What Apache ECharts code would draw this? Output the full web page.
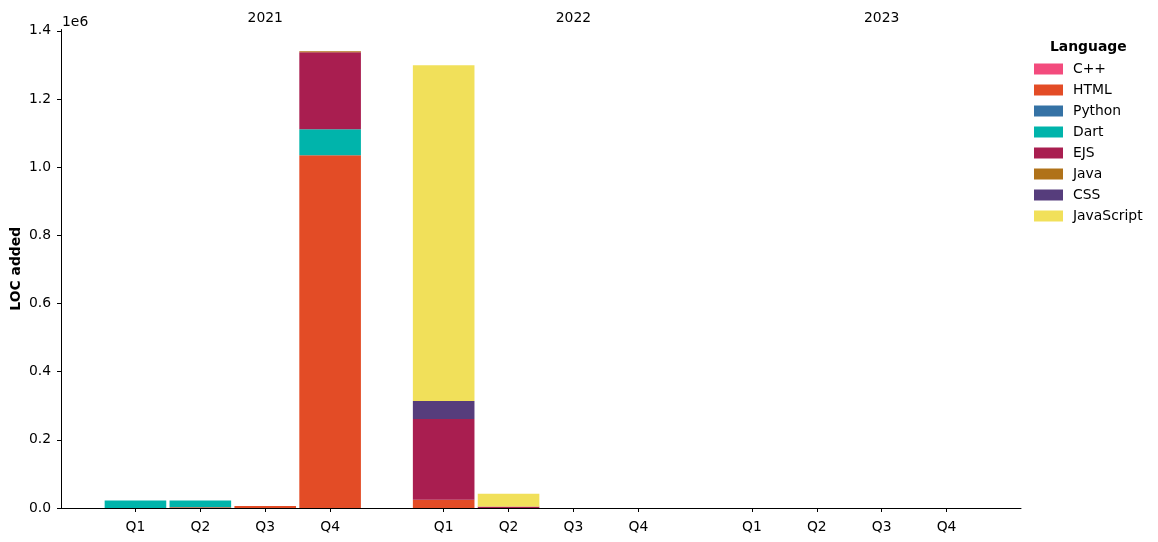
<!DOCTYPE html>
<html>
<head>
<meta charset="utf-8">
<script src="https://cdn.jsdelivr.net/npm/echarts@6/dist/echarts.min.js"></script>
<style>
  html, body { margin: 0; padding: 0; background: #fff; }
  #chart { width: 1158px; height: 542px; }
</style>
</head>
<body>
<div id="chart"></div>
<script>
// years / quarters on the x axis
var years = ['2021', '2022', '2023'];
var quarters = ['Q1', 'Q2', 'Q3', 'Q4'];

// lines of code added per quarter (2021 Q1 .. 2023 Q4)
var languages = ['C++', 'HTML', 'Python', 'Dart', 'EJS', 'Java', 'CSS', 'JavaScript'];
var colors = ['#f34b7d', '#e34c26', '#3572A5', '#00B4AB', '#a91e50', '#b07219', '#563d7c', '#f1e05a'];

var cppVals        = [0, 0, 0, 0,            0, 0, 0, 0,   0, 0, 0, 0];
var htmlVals       = [0, 2500, 6000, 1035000, 24000, 0, 0, 0, 0, 0, 0, 0];
var pythonVals     = [0, 0, 0, 0,            0, 0, 0, 0,   0, 0, 0, 0];
var dartVals       = [22000, 19500, 0, 76000, 0, 0, 0, 0,  0, 0, 0, 0];
var ejsVals        = [0, 0, 0, 226000,       237000, 4000, 0, 0, 0, 0, 0, 0];
var javaVals       = [0, 0, 0, 3000,         0, 500, 0, 0, 0, 0, 0, 0];
var cssVals        = [0, 0, 0, 0,            53000, 0, 0, 0, 0, 0, 0, 0];
var javascriptVals = [0, 0, 0, 0,            985000, 37000, 0, 0, 0, 0, 0, 0];

var yTicks = [0, 200000, 400000, 600000, 800000, 1000000, 1200000, 1400000];

var allVals = [cppVals, htmlVals, pythonVals, dartVals, ejsVals, javaVals, cssVals, javascriptVals];

// x position of each bar: quarters side by side, a gap between years
var yearStride = 4.75;
var positions = [];
var posLabel = {};
years.forEach(function (y, yi) {
  quarters.forEach(function (q, qi) {
    var p = yi * yearStride + qi;
    positions.push(p);
    posLabel[p.toFixed(3)] = q;
  });
});
var yearPositions = years.map(function (y, yi) { return yi * yearStride + 2; });
var yearLabel = {};
yearPositions.forEach(function (p, i) { yearLabel[p.toFixed(3)] = years[i]; });

// value first so the stack runs on the y dimension
var series = languages.map(function (name, i) {
  return {
    name: name,
    type: 'bar',
    stack: 'loc',
    barWidth: 61.6,
    encode: { x: 1, y: 0 },
    itemStyle: { color: colors[i] },
    emphasis: { disabled: true },
    data: allVals[i].map(function (v, k) { return [v, positions[k]]; })
  };
});

var chart = echarts.init(document.getElementById('chart'));
var font = 'DejaVu Sans';
var fs = 13.9;
chart.setOption({
  animation: false,
  textStyle: { fontFamily: font, color: '#000' },
  title: [
    { text: 'Language', left: 1045, top: 35, textStyle: { fontFamily: font, fontSize: fs, fontWeight: 'bold', color: '#000' } },
    { text: '1e6', left: 57, top: 10, textStyle: { fontFamily: font, fontSize: fs, fontWeight: 'normal', color: '#000' } }
  ],
  legend: {
    orient: 'vertical',
    left: 1034,
    top: 62,
    padding: 0,
    itemWidth: 29,
    itemHeight: 11,
    itemGap: 7,
    icon: 'rect',
    textStyle: { fontFamily: font, fontSize: fs, color: '#000', padding: [0, 0, 0, 5] },
    data: languages
  },
  grid: { left: 61, right: 137, top: 29.5, bottom: 34, outerBoundsMode: 'none' },
  xAxis: [{
    type: 'value',
    min: -1.1475,
    max: 13.6475,
    splitLine: { show: false },
    axisLine: { show: true, onZero: false, lineStyle: { color: '#000', width: 1 } },
    axisTick: { show: true, length: 4, customValues: positions, lineStyle: { color: '#000' } },
    axisLabel: {
      customValues: positions,
      margin: 12,
      fontSize: fs,
      color: '#000',
      formatter: function (v) { return posLabel[v.toFixed(3)] || ''; }
    }
  }, {
    type: 'value',
    position: 'top',
    min: -1.1475,
    max: 13.6475,
    splitLine: { show: false },
    axisLine: { show: false },
    axisTick: { show: false },
    axisLabel: {
      customValues: yearPositions,
      margin: 4,
      fontSize: fs,
      color: '#000',
      formatter: function (v) { return yearLabel[v.toFixed(3)] || ''; }
    }
  }],
  yAxis: {
    type: 'value',
    min: 0,
    max: 1404000,
    name: 'LOC added',
    nameLocation: 'middle',
    nameGap: 38,
    nameMoveOverlap: false,
    nameTextStyle: { fontFamily: font, fontSize: fs, fontWeight: 'bold', color: '#000' },
    splitLine: { show: false },
    axisLine: { show: true, onZero: false, lineStyle: { color: '#000', width: 1 } },
    axisTick: { show: true, length: 4, customValues: yTicks, lineStyle: { color: '#000' } },
    axisLabel: {
      customValues: yTicks,
      margin: 10,
      fontSize: fs,
      color: '#000',
      formatter: function (v) { return (v / 1e6).toFixed(1); }
    }
  },
  series: series
});
</script>
</body>
</html>
